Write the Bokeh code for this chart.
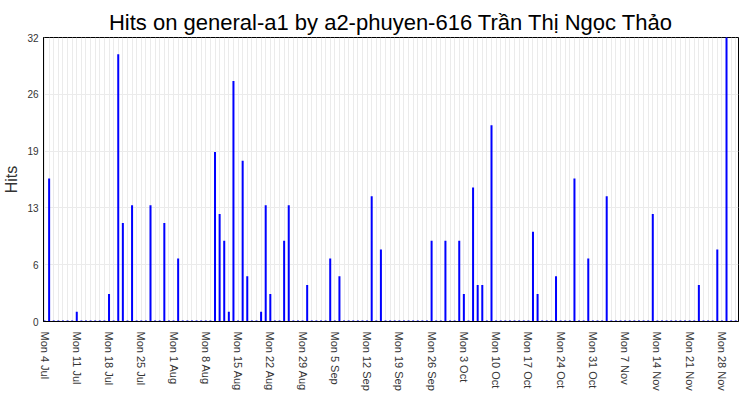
import pandas as pd
from bokeh.plotting import figure
from bokeh.models import Range1d, FixedTicker, CustomJSTickFormatter, ColumnDataSource
from bokeh.embed import file_html
from bokeh.resources import INLINE

title_text = "Hits on general-a1 by a2-phuyen-616 Trần Thị Ngọc Thảo"
start_date = "2022-07-04"
end_date = "2022-12-01"

hit_dates = [
    "2022-07-05", "2022-07-11", "2022-07-18", "2022-07-20", "2022-07-21", "2022-07-23",
    "2022-07-27", "2022-07-30", "2022-08-02", "2022-08-10", "2022-08-11", "2022-08-12",
    "2022-08-13", "2022-08-14", "2022-08-16", "2022-08-17", "2022-08-20", "2022-08-21",
    "2022-08-22", "2022-08-25", "2022-08-26", "2022-08-30", "2022-09-04", "2022-09-06",
    "2022-09-13", "2022-09-15", "2022-09-26", "2022-09-29", "2022-10-02", "2022-10-03",
    "2022-10-05", "2022-10-06", "2022-10-07", "2022-10-09", "2022-10-18", "2022-10-19",
    "2022-10-23", "2022-10-27", "2022-10-30", "2022-11-03", "2022-11-13", "2022-11-23",
    "2022-11-27", "2022-11-29",
]
hit_counts = [
    16, 1, 3, 30, 11, 13,
    13, 11, 7, 19, 12, 9,
    1, 27, 18, 5, 1, 13,
    3, 9, 13, 4, 7, 5,
    14, 8, 9, 9, 9, 3,
    15, 4, 4, 22, 10, 3,
    5, 16, 7, 14, 12, 4,
    8, 32,
]

x_tick_labels = [
    "Mon 4 Jul", "Mon 11 Jul", "Mon 18 Jul", "Mon 25 Jul", "Mon 1 Aug", "Mon 8 Aug",
    "Mon 15 Aug", "Mon 22 Aug", "Mon 29 Aug", "Mon 5 Sep", "Mon 12 Sep", "Mon 19 Sep",
    "Mon 26 Sep", "Mon 3 Oct", "Mon 10 Oct", "Mon 17 Oct", "Mon 24 Oct", "Mon 31 Oct",
    "Mon 7 Nov", "Mon 14 Nov", "Mon 21 Nov", "Mon 28 Nov",
]
y_ticks = [0, 6.4, 12.8, 19.2, 25.6, 32]

# full daily series (days without hits are zero)
days = pd.date_range(start_date, end_date, freq="D")
counts = pd.Series(0, index=days)
counts[pd.to_datetime(hit_dates)] = hit_counts
day_index = list(range(len(days)))
source = ColumnDataSource(dict(x=day_index, hits=counts.values.tolist(),
                               base=[0] * len(days)))

p = figure(width=750, height=400, output_backend="svg", toolbar_location=None,
           x_range=Range1d(-0.22, len(days) - 0.4), y_range=Range1d(0, max(y_ticks)),
           min_border_left=41, min_border_right=12, min_border_top=37, min_border_bottom=79)

# each day is a thin bar; square caps keep zero days visible as small dashes
p.segment(x0="x", y0="base", x1="x", y1="hits", source=source,
          line_color="#0000ff", line_width=2, line_cap="square")

p.title.text = title_text
p.title.align = "center"
p.title.text_font = "Liberation Sans"
p.title.text_font_size = "22px"
p.title.text_font_style = "normal"
p.title.text_color = "#000000"
p.title.standoff = 5

# axes
p.yaxis.ticker = FixedTicker(ticks=y_ticks)
p.yaxis.formatter = CustomJSTickFormatter(code="return Math.round(tick).toString();")
p.yaxis.axis_label = "Hits"
p.yaxis.axis_label_text_font = "Liberation Sans"
p.yaxis.axis_label_text_font_size = "16px"
p.yaxis.axis_label_text_font_style = "normal"
p.yaxis.axis_label_text_color = "#333333"
p.yaxis.axis_label_standoff = 4

week_ticks = [7 * i for i in range(len(x_tick_labels))]
p.xaxis.ticker = FixedTicker(ticks=week_ticks)
p.xaxis.major_label_overrides = {t: lab for t, lab in zip(week_ticks, x_tick_labels)}
p.xaxis.major_label_orientation = "vertical"

for ax in (p.xaxis, p.yaxis):
    ax.major_label_text_font = "Liberation Sans"
    ax.major_label_text_color = "#333333"
    ax.major_tick_line_color = None
    ax.minor_tick_line_color = None
    ax.major_tick_out = 0
    ax.major_tick_in = 0
    ax.minor_tick_out = 0
    ax.minor_tick_in = 0
    ax.axis_line_color = "#000000"
    ax.axis_line_width = 1

p.xaxis.major_label_text_font_size = "11px"
p.xaxis.major_label_standoff = 10
p.yaxis.major_label_text_font_size = "10px"
p.yaxis.major_label_standoff = 5

p.outline_line_color = "#000000"
p.outline_line_width = 1
p.outline_line_alpha = 1

p.xgrid.ticker = FixedTicker(ticks=day_index)
p.xgrid.grid_line_color = "#ebebeb"
p.ygrid.grid_line_color = "#ebebeb"
p.background_fill_color = "#ffffff"
p.border_fill_color = "#ffffff"

open("out.html", "w").write(file_html(p, INLINE))
